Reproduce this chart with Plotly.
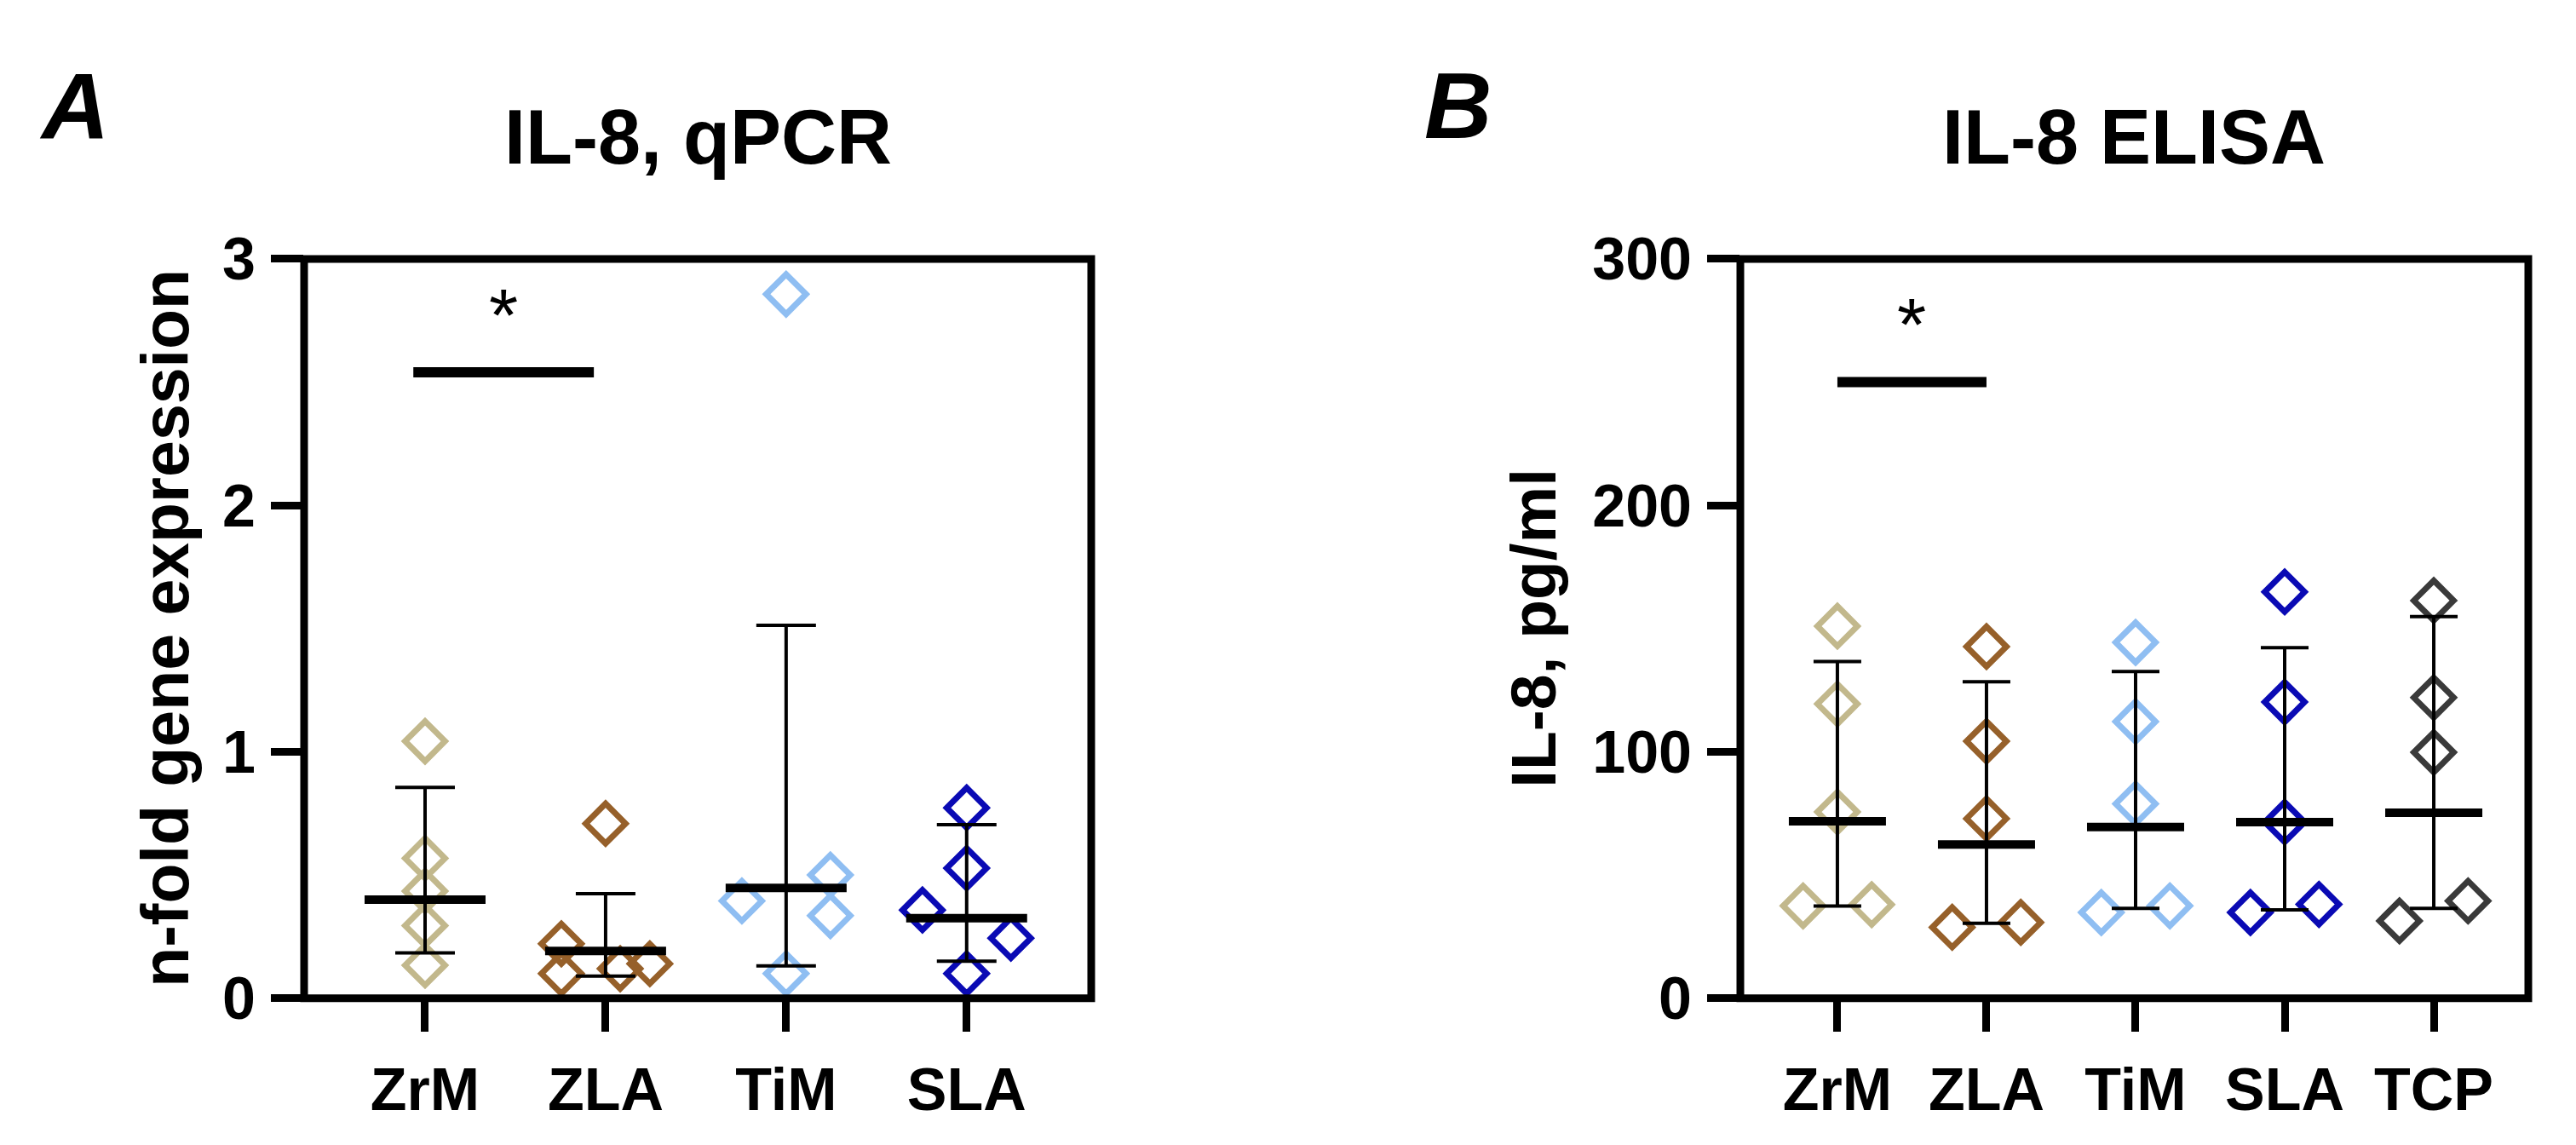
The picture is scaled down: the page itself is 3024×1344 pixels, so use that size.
import plotly.graph_objects as go

# ---- data ----
catsA = ["ZrM", "ZLA", "TiM", "SLA"]
catsB = ["ZrM", "ZLA", "TiM", "SLA", "TCP"]
colors = {"ZrM": "#c2b88c", "ZLA": "#96602a", "TiM": "#8fbef2", "SLA": "#0a0ab4", "TCP": "#3a3a3a"}

# IL-8 qPCR, n-fold gene expression (5 replicates per surface)
qpcr_ZrM = [1.043, 0.568, 0.435, 0.295, 0.134]
qpcr_ZLA = [0.709, 0.221, 0.10, 0.12, 0.14]
qpcr_TiM = [2.857, 0.50, 0.395, 0.335, 0.10]
qpcr_SLA = [0.773, 0.528, 0.358, 0.244, 0.10]
qpcr_mean = [0.40, 0.192, 0.448, 0.325]
qpcr_low = [0.184, 0.090, 0.131, 0.150]
qpcr_high = [0.856, 0.424, 1.513, 0.704]

# IL-8 ELISA, pg/ml
elisa_ZrM = [151.0, 119.4, 75.6, 37.5, 38.0]
elisa_ZLA = [142.7, 104.3, 72.9, 28.8, 30.8]
elisa_TiM = [144.4, 112.3, 78.9, 34.8, 37.5]
elisa_SLA = [164.9, 120.2, 71.5, 34.8, 38.1]
elisa_TCP = [161.4, 122.0, 99.8, 31.4, 39.5]
elisa_mean = [71.8, 62.4, 69.5, 71.5, 75.3]
elisa_low = [37.4, 30.4, 36.5, 35.9, 36.5]
elisa_high = [136.6, 128.4, 132.6, 142.3, 154.9]

sigA = ("ZrM", "ZLA", 2.54)
sigB = ("ZrM", "ZLA", 250)

# ---- layout helpers (scatter spreading of overlapping points, in slots) ----
slotsA = {"ZrM": [0, 0, 0, 0, 0], "ZLA": [0, -1, -1, 0.33, 1],
          "TiM": [0, 1, -1, 1, 0], "SLA": [0, 0, -1, 1, 0]}
slotsB = {c: [0, 0, 0, -1, 1] for c in catsB}

W, H = 3024, 1344
FONT = "Liberation Sans, Arial, sans-serif"


def px(x):
    return x / W


def py(y):
    return 1 - y / H


fig = go.Figure()


def add_panel(cats, values, mean, low, high, slots, slotw, xa, ya, meanlen, capw):
    for i, c in enumerate(cats):
        fig.add_trace(go.Scatter(
            x=[i + s * slotw for s in slots[c]], y=values[c], mode="markers",
            xaxis=xa, yaxis=ya, showlegend=False,
            marker=dict(symbol="diamond-open", size=36, color=colors[c],
                        line=dict(width=7, color=colors[c]))))
    fig.add_trace(go.Scatter(
        x=list(range(len(cats))), y=mean, mode="markers", xaxis=xa, yaxis=ya,
        showlegend=False,
        marker=dict(symbol="line-ew", size=meanlen / 1.4, color="black",
                    line=dict(width=10, color="black")),
        error_y=dict(type="data", symmetric=False,
                     array=[h - m for h, m in zip(high, mean)],
                     arrayminus=[m - l for m, l in zip(mean, low)],
                     color="black", thickness=4, width=capw)))


add_panel(catsA, {"ZrM": qpcr_ZrM, "ZLA": qpcr_ZLA, "TiM": qpcr_TiM, "SLA": qpcr_SLA},
          qpcr_mean, qpcr_low, qpcr_high, slotsA, 0.245, "x", "y", 142, 35)
add_panel(catsB, {"ZrM": elisa_ZrM, "ZLA": elisa_ZLA, "TiM": elisa_TiM, "SLA": elisa_SLA, "TCP": elisa_TCP},
          elisa_mean, elisa_low, elisa_high, slotsB, 0.23, "x2", "y2", 114, 28)

tickfont = dict(family=FONT, size=70, color="black", weight="bold")
common_x = dict(showgrid=False, zeroline=False, showline=False, ticks="outside",
                ticklen=38, tickwidth=9, tickcolor="black", tickfont=tickfont, fixedrange=True,
                ticklabelstandoff=8)
common_y = dict(showgrid=False, zeroline=False, showline=False, ticks="outside",
                ticklen=38, tickwidth=9, tickcolor="black", tickfont=tickfont, fixedrange=True,
                ticklabelstandoff=4)

ydom = [py(1195), py(273)]
fig.update_layout(
    width=W, height=H, autosize=False,
    margin=dict(l=0, r=0, t=0, b=0),
    paper_bgcolor="white", plot_bgcolor="white",
    xaxis=dict(domain=[px(349), px(1273)], range=[-0.67, 3.69],
               tickvals=list(range(len(catsA))), ticktext=catsA, anchor="y", **common_x),
    yaxis=dict(domain=ydom, range=[0, 3], tickvals=[0, 1, 2, 3], anchor="x", **common_y),
    xaxis2=dict(domain=[px(2035), px(2960)], range=[-0.651, 4.634],
                tickvals=list(range(len(catsB))), ticktext=catsB, anchor="y2", **common_x),
    yaxis2=dict(domain=ydom, range=[0, 300], tickvals=[0, 100, 200, 300], anchor="x2", **common_y),
)

# frames around the plot areas
for xr, yr in [("x domain", "y domain"), ("x2 domain", "y2 domain")]:
    fig.add_shape(type="rect", xref=xr, yref=yr, x0=0, x1=1, y0=0, y1=1,
                  line=dict(color="black", width=9), layer="above")

# significance bars
for (a, b, yv), cats, xa, ya, shift in [(sigA, catsA, "x", "y", -0.065), (sigB, catsB, "x2", "y2", 0)]:
    x0, x1 = cats.index(a) + shift, cats.index(b) + shift
    fig.add_shape(type="line", xref=xa, yref=ya, x0=x0, x1=x1, y0=yv, y1=yv,
                  line=dict(color="black", width=12))
    fig.add_annotation(x=(x0 + x1) / 2, y=yv, xref=xa, yref=ya, text="*", showarrow=False,
                       xanchor="center", yanchor="middle", yshift=68,
                       font=dict(family=FONT, size=88, color="black"))


def label(x, y, text, size, anchor="center", **kw):
    fig.add_annotation(x=px(x), y=py(y), xref="paper", yref="paper", text=text,
                       showarrow=False, xanchor=anchor, yanchor="middle",
                       font=dict(family=FONT, size=size, color="black", weight="bold", **kw.pop("font", {})),
                       **kw)


# titles, panel letters, axis titles
label(811, 121, "IL-8, qPCR", 90)
label(2497, 121, "IL-8 ELISA", 90)
label(36, 81, "A", 110, anchor="left", font=dict(style="italic"))
label(1662, 81, "B", 110, anchor="left", font=dict(style="italic"))
label(186, 734, "n-fold gene expression", 77, textangle=-90)
label(1792, 734, "IL-8, pg/ml", 75, textangle=-90)

fig.write_html("out.html")
